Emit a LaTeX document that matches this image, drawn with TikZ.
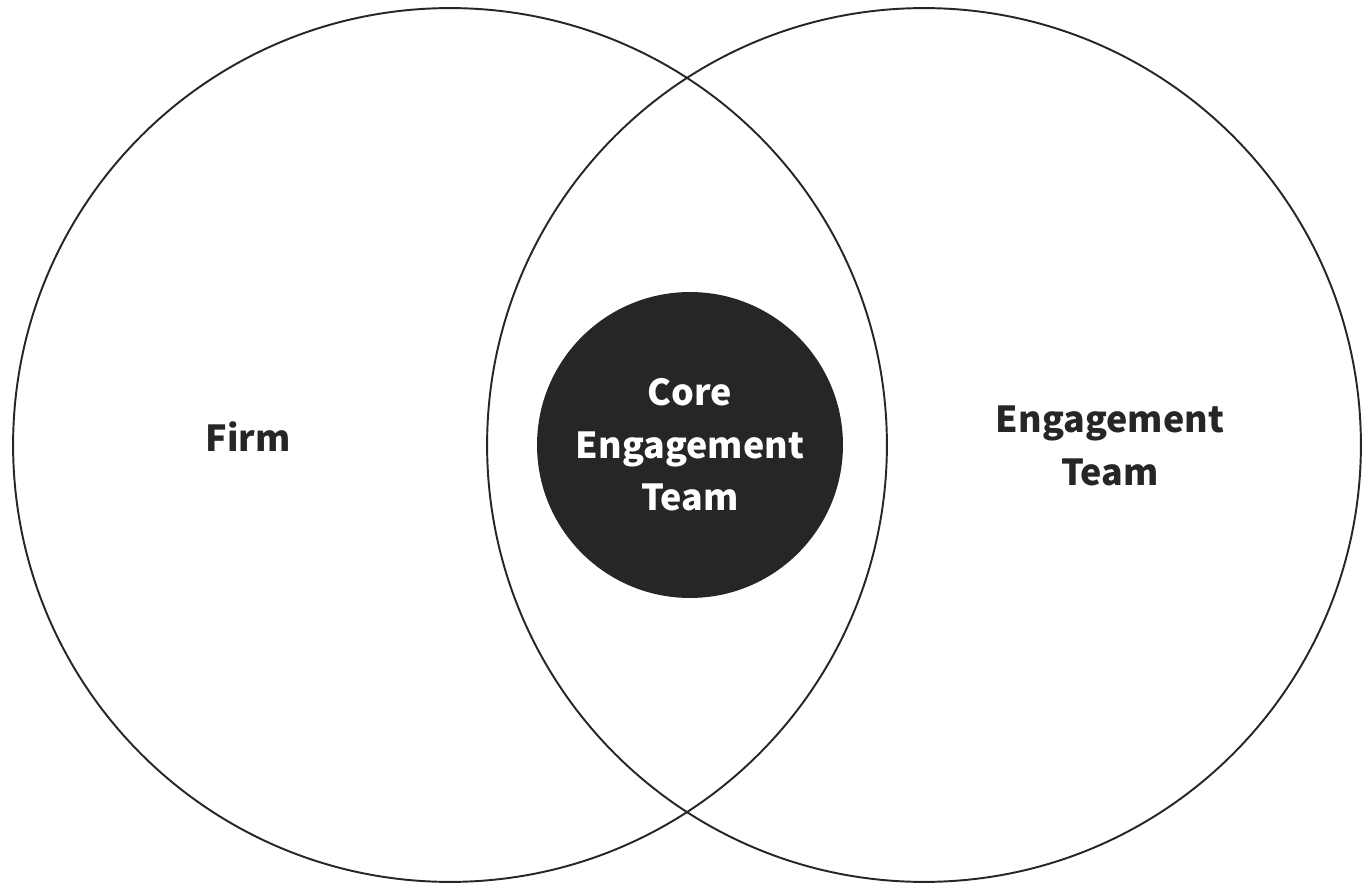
\documentclass[tikz,border=0pt]{standalone}
\usepackage{fontspec}
\setmainfont{Noto Sans CJK KR}
\usepackage{tikz}

\begin{document}
\begin{tikzpicture}[x=0.02cm, y=-0.02cm, thick]

\useasboundingbox (0,0) rectangle (1363,888);

\tikzstyle{ring}=[circle, draw=black!85, line width=1.1pt, minimum size=17.48cm, inner sep=0pt]
\tikzstyle{core}=[circle, fill=black!85, draw=none, minimum size=6.12cm, inner sep=0pt]
\tikzstyle{word}=[align=center, text=black!85, font=\fontsize{20.4}{29.8}\selectfont\bfseries]

\draw    (450, 445)  node[ring] (firm) {}
         (924, 445)  node[ring] (team) {}
         (690, 445)  node[core] (kern) {};

\draw    (248, 437)  node[word] (firmtxt) {Firm}
         (1110, 446) node[word] (teamtxt) {Engagement\\Team}
         (kern)      node[word, text=white] (kerntxt) {Core\\Engagement\\Team};

\end{tikzpicture}
\end{document}
